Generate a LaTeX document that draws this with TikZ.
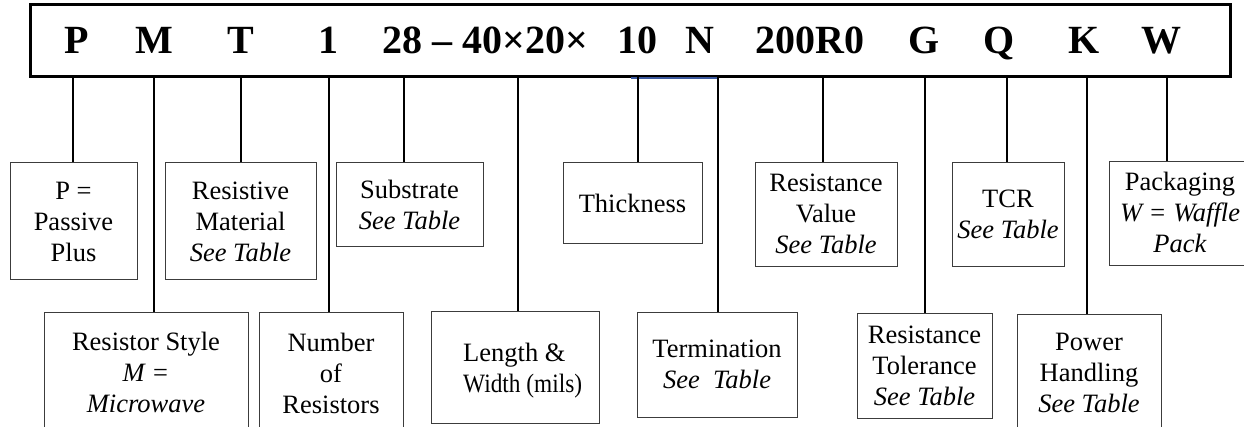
\documentclass[tikz,border=0pt]{standalone}
\usepackage{fontspec}
\usepackage{graphicx}
\setmainfont{Liberation Serif}
\definecolor{boxline}{RGB}{60,60,60}
\definecolor{uline}{RGB}{60,90,160}
\tikzset{
  codebox/.style={draw=black, line width=3.5pt, inner sep=0pt},
  code/.style={inner sep=0pt, anchor=base, font=\fontsize{40}{48}\selectfont\bfseries},
  conn/.style={draw=black, line width=2.4pt},
  box/.style={draw=boxline, line width=1pt, inner sep=0pt},
  lbl/.style={align=center, inner sep=0pt, anchor=base, font=\fontsize{26.5}{31}\selectfont}
}
\begin{document}
\begin{tikzpicture}[x=1pt,y=-1pt]
\useasboundingbox (0,0) rectangle (1244,427);
\clip (0,0) rectangle (1244,427);
\fill[white] (0,0) rectangle (1244,427);

% code box
\node[codebox, minimum width=1200pt, minimum height=72pt] (code) at (630.5,40.5) {};
\node[code] (cP) at (77,53.5) {P};
\node[code] (cM) at (154,53.5) {M};
\node[code] (cT) at (241,53.5) {T};
\node[code] (c1) at (328,53.5) {1};
\node[code] (c28) at (485.5,53.5) {28 – 40×20×};
\node[code] (c10) at (637.5,53.5) {10};
\node[code] (cN) at (700,53.5) {N};
\node[code] (c200) at (810,53.5) {200R0};
\node[code] (cG) at (924,53.5) {G};
\node[code] (cQ) at (999,53.5) {Q};
\node[code] (cK) at (1084,53.5) {K};
\node[code] (cW) at (1161,53.5) {W};
\draw[uline, line width=1.8pt] (631,78) -- (718,78);

% boxes
\node[box, minimum width=127pt, minimum height=117pt] (bP) at (73.5,221.5) {};
\node[box, minimum width=151pt, minimum height=117pt] (bRM) at (240.5,221.5) {};
\node[box, minimum width=147pt, minimum height=84pt] (bSub) at (409.5,205) {};
\node[box, minimum width=139pt, minimum height=81pt] (bTh) at (632.5,203.5) {};
\node[box, minimum width=142pt, minimum height=104pt] (bRV) at (826,215) {};
\node[box, minimum width=112pt, minimum height=104pt] (bTCR) at (1008,215) {};
\node[box, minimum width=143pt, minimum height=104pt] (bPk) at (1180.5,214) {};
\node[box, minimum width=204pt, minimum height=127pt] (bRS) at (146,376.5) {};
\node[box, minimum width=144pt, minimum height=127pt] (bNR) at (331,376.5) {};
\node[box, minimum width=168pt, minimum height=111pt] (bLW) at (515,367.5) {};
\node[box, minimum width=160pt, minimum height=104pt] (bTm) at (717,365) {};
\node[box, minimum width=135pt, minimum height=104pt] (bRT) at (924.5,366) {};
\node[box, minimum width=144pt, minimum height=125pt] (bPH) at (1089,377.5) {};

% labels
\node[lbl] (tP) at (73.5,262) {P =\\Passive\\Plus};
\node[lbl] (tRM) at (240.5,262) {Resistive\\Material\\\textit{See Table}};
\node[lbl] (tSub) at (409.5,230) {Substrate\\\textit{See Table}};
\node[lbl] (tTh) at (632.5,213) {Thickness};
\node[lbl] (tRV) at (826,254) {Resistance\\Value\\\textit{See Table}};
\node[lbl] (tTCR) at (1008,239) {TCR\\\textit{See Table}};
\node[lbl] (tPk) at (1180,253) {Packaging\\\textit{W = Waffle}\\\textit{Pack}};
\node[lbl] (tRS) at (146,412) {Resistor Style\\\textit{M =}\\\textit{Microwave}};
\node[lbl] (tNR) at (331,413) {Number\\of\\Resistors};
\node[lbl, align=left, anchor=base west] (tLW) at (463,392) {Length \&\\\scalebox{0.88}[1]{Width (mils)}};
\node[lbl] (tTm) at (717,388) {Termination\\\textit{See\ \ Table}};
\node[lbl] (tRT) at (924.5,405) {Resistance\\Tolerance\\\textit{See Table}};
\node[lbl] (tPH) at (1089,412) {Power\\Handling\\\textit{See Table}};

% connector origins on the code box
\coordinate (k1) at (73,77);
\coordinate (k2) at (154,77);
\coordinate (k3) at (241,77);
\coordinate (k4) at (329,77);
\coordinate (k5) at (404,77);
\coordinate (k6) at (518,77);
\coordinate (k7) at (638,77);
\coordinate (k8) at (718,77);
\coordinate (k9) at (823,77);
\coordinate (k10) at (925,77);
\coordinate (k11) at (1007,77);
\coordinate (k12) at (1087,77);
\coordinate (k13) at (1167,77);

\draw[conn] (k1) -- (k1 |- bP.north);
\draw[conn] (k2) -- (k2 |- bRS.north);
\draw[conn] (k3) -- (k3 |- bRM.north);
\draw[conn] (k4) -- (k4 |- bNR.north);
\draw[conn] (k5) -- (k5 |- bSub.north);
\draw[conn] (k6) -- (k6 |- bLW.north);
\draw[conn] (k7) -- (k7 |- bTh.north);
\draw[conn] (k8) -- (k8 |- bTm.north);
\draw[conn] (k9) -- (k9 |- bRV.north);
\draw[conn] (k10) -- (k10 |- bRT.north);
\draw[conn] (k11) -- (k11 |- bTCR.north);
\draw[conn] (k12) -- (k12 |- bPH.north);
\draw[conn] (k13) -- (k13 |- bPk.north);
\end{tikzpicture}
\end{document}
